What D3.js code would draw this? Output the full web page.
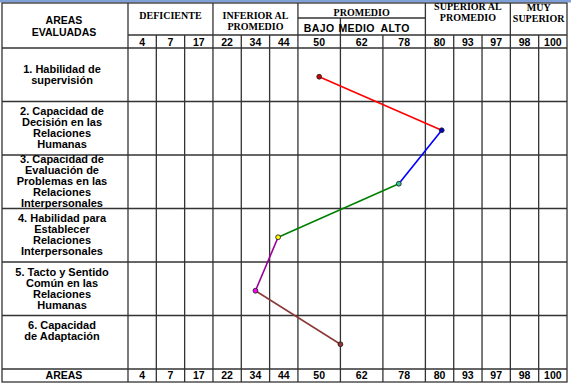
<!DOCTYPE html>
<html lang="es">
<head>
<meta charset="UTF-8">
<title>Areas evaluadas</title>
<style>
  body { margin: 0; background: #fff; }
  .grid { stroke: #333; stroke-width: 1.3px; fill: none; }
  .lbl { font-family: "Liberation Sans", Arial, sans-serif; font-weight: bold; font-size: 11px; fill: #000; }
  .hdr { font-family: "Liberation Sans", Arial, sans-serif; font-weight: bold; font-size: 10.5px; fill: #000; }
  .num { font-family: "Liberation Sans", Arial, sans-serif; font-weight: bold; font-size: 10.5px; fill: #000; }
  .grp { font-family: "Liberation Serif", "Times New Roman", serif; font-weight: bold; font-size: 10px; fill: #000; }
</style>
</head>
<body>
<script src="https://d3js.org/d3.v7.min.js"></script>
<script>
// columnas (percentiles) y grupos
const percentiles = [4, 7, 17, 22, 34, 44, 50, 62, 78, 80, 93, 97, 98, 100];
const groupNames = [["DEFICIENTE"], ["INFERIOR AL", "PROMEDIO"], ["PROMEDIO"], ["SUPERIOR AL", "PROMEDIO"], ["MUY", "SUPERIOR"]];
const groupSize = [3, 3, 3, 3, 2];
const promedioSub = ["BAJO", "MEDIO", "ALTO"];

// areas evaluadas (una linea de texto por elemento)
const areas = [
  ["1. Habilidad de", "supervisión"],
  ["2. Capacidad de", "Decisión en las", "Relaciones", "Humanas"],
  ["3. Capacidad de", "Evaluación de", "Problemas en las", "Relaciones", "Interpersonales"],
  ["4. Habilidad para", "Establecer", "Relaciones", "Interpersonales"],
  ["5. Tacto y Sentido", "Común en las", "Relaciones", "Humanas"],
  ["6. Capacidad", "de Adaptación", "", ""]
];
const scores = [50, 81, 76, 42, 34, 56];

// estilos
const segColors = ["#ff0000", "#0000ff", "#008000", "#990099", "#8b3a3a"];
const dotColors = ["#cc0000", "#0000cc", "#33cc99", "#ffff00", "#ff00ff", "#993333"];

const W = 571, H = 385;
const L = 2, R = 567, T = 3, B = 382;
const colLeft = 128;
const ySub = 18, yHead = 35, yData = 48, yFoot = 369;

const svg = d3.select('body').append('svg')
  .attr('width', W)
  .attr('height', H);

svg.append('rect').attr('width', W).attr('height', H).attr('fill', '#fff');
svg.append('rect').attr('width', W).attr('height', 2.5).attr('fill', '#7f9fd8');

// anchos de columna: las de PROMEDIO son mas anchas
const colWeight = percentiles.map((p, i) => (i >= 6 && i <= 8) ? 1.5 : 1);
const cum = [0, ...d3.cumsum(colWeight)];
const u = d3.scaleLinear().domain([0, cum[cum.length - 1]]).range([colLeft, R]);
const edges = cum.map(u);
const centers = percentiles.map((p, i) => (edges[i] + edges[i + 1]) / 2);

const x = d3.scaleLinear().domain(percentiles).range(centers);
const y = d3.scaleBand().domain(d3.range(areas.length)).range([yData, yFoot]);
const bw = y.bandwidth();

const grid = svg.append('g').attr('class', 'grid');
const hline = (y0, x0, x1) => grid.append('line').attr('x1', x0).attr('x2', x1).attr('y1', y0).attr('y2', y0);
const vline = (x0, y0, y1) => grid.append('line').attr('x1', x0).attr('x2', x0).attr('y1', y0).attr('y2', y1);

// marco
grid.append('rect').attr('x', L).attr('y', T).attr('width', R - L).attr('height', B - T);
hline(yHead, colLeft, R);
hline(yData, L, R);
d3.range(1, areas.length).forEach(i => hline(y(i), L, R));
hline(yFoot, L, R);
hline(ySub, edges[6], edges[9]);
vline(colLeft, T, B);

// lineas verticales
const groupEdges = [0, ...d3.cumsum(groupSize)];
edges.slice(1, -1).forEach((e, k) => {
  const i = k + 1;
  let top = yHead;
  if (groupEdges.includes(i)) top = T;
  else if (i === 7) top = ySub;
  vline(e, top, B);
});

// encabezados de grupos
const groupBase = [[18.5], [18.5, 29.5], [15.8], [10, 20.5], [11, 22]];
groupNames.forEach((lines, g) => {
  const cx = (edges[groupEdges[g]] + edges[groupEdges[g + 1]]) / 2;
  lines.forEach((t, j) => {
    svg.append('text').attr('class', 'grp')
      .attr('x', cx).attr('y', groupBase[g][j])
      .attr('text-anchor', 'middle')
      .text(t);
  });
});

// BAJO / MEDIO / ALTO
const subX = [x(50), x(62) - 5, x(78) - 9];
promedioSub.forEach((t, i) => {
  svg.append('text').attr('class', 'num')
    .attr('x', subX[i]).attr('y', 31.5)
    .attr('text-anchor', 'middle')
    .attr('letter-spacing', 0.4)
    .text(t);
});

// encabezado de areas
svg.append('text').attr('class', 'hdr').attr('x', 64).attr('y', 24).attr('text-anchor', 'middle').text('AREAS');
svg.append('text').attr('class', 'hdr').attr('x', 64).attr('y', 35.5).attr('text-anchor', 'middle').text('EVALUADAS');

// numeros arriba y abajo
[46, 378.5].forEach(yy => {
  percentiles.forEach(p => {
    svg.append('text').attr('class', 'num')
      .attr('x', x(p)).attr('y', yy)
      .attr('text-anchor', 'middle')
      .text(p);
  });
});
svg.append('text').attr('class', 'num').attr('x', 64).attr('y', 378.5).attr('text-anchor', 'middle').text('AREAS');

// nombres de areas
areas.forEach((lines, i) => {
  const cy = y(i) + bw / 2;
  const n = lines.length;
  lines.forEach((t, j) => {
    svg.append('text').attr('class', 'lbl')
      .attr('x', 62)
      .attr('y', cy + (j - (n - 1) / 2) * 11 + 3.5)
      .attr('text-anchor', 'middle')
      .text(t);
  });
});

// perfil
const pts = scores.map((s, i) => [x(s), y(i) + bw / 2 + 2]);
d3.range(pts.length - 1).forEach(i => {
  svg.append('line')
    .attr('x1', pts[i][0]).attr('y1', pts[i][1])
    .attr('x2', pts[i + 1][0]).attr('y2', pts[i + 1][1])
    .attr('stroke', segColors[i])
    .attr('stroke-width', 1.6);
});
svg.selectAll('circle.dot')
  .data(pts)
  .join('circle')
  .attr('class', 'dot')
  .attr('cx', d => d[0])
  .attr('cy', d => d[1])
  .attr('r', 2.4)
  .attr('fill', (d, i) => dotColors[i])
  .attr('stroke', '#222')
  .attr('stroke-width', 0.9);
</script>
</body>
</html>
